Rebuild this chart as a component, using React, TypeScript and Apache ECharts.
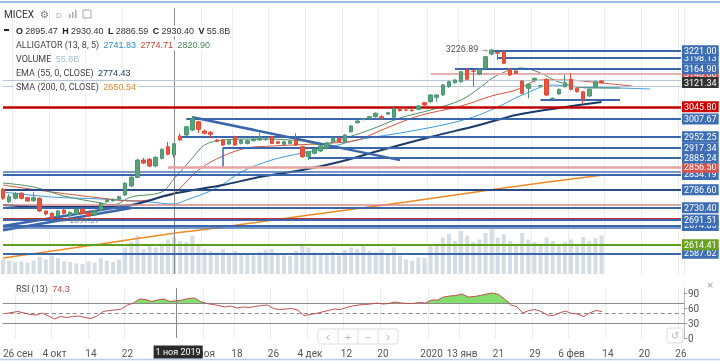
import React, { useEffect, useRef } from "react";
import * as echarts from "echarts";

const dates = [
  "2019-09-24","2019-09-25","2019-09-26","2019-09-27","2019-09-30",
  "2019-10-01","2019-10-02","2019-10-03","2019-10-04","2019-10-07","2019-10-08","2019-10-09","2019-10-10","2019-10-11",
  "2019-10-14","2019-10-15","2019-10-16","2019-10-17","2019-10-18","2019-10-21","2019-10-22","2019-10-23","2019-10-24","2019-10-25",
  "2019-10-28","2019-10-29","2019-10-30","2019-10-31",
  "2019-11-01","2019-11-05","2019-11-06","2019-11-07","2019-11-08","2019-11-11","2019-11-12","2019-11-13","2019-11-14","2019-11-15",
  "2019-11-18","2019-11-19","2019-11-20","2019-11-21","2019-11-22","2019-11-25","2019-11-26","2019-11-27","2019-11-28","2019-11-29",
  "2019-12-02","2019-12-03","2019-12-04","2019-12-05","2019-12-06","2019-12-09","2019-12-10","2019-12-11","2019-12-12","2019-12-13",
  "2019-12-16","2019-12-17","2019-12-18","2019-12-19","2019-12-20","2019-12-23","2019-12-24","2019-12-25","2019-12-26","2019-12-27",
  "2019-12-30","2019-12-31",
  "2020-01-03","2020-01-06","2020-01-08","2020-01-09","2020-01-10","2020-01-13","2020-01-14","2020-01-15","2020-01-16","2020-01-17",
  "2020-01-20","2020-01-21","2020-01-22","2020-01-23","2020-01-24","2020-01-27","2020-01-28","2020-01-29","2020-01-30","2020-01-31",
  "2020-02-03","2020-02-04","2020-02-05","2020-02-06","2020-02-07","2020-02-10","2020-02-11","2020-02-12","2020-02-13",
  "2020-02-14","2020-02-15","2020-02-16","2020-02-17","2020-02-18","2020-02-19","2020-02-20","2020-02-21","2020-02-22","2020-02-23",
  "2020-02-24","2020-02-25","2020-02-26"
];

const tickDates = ["2019-09-26","2019-10-04","2019-10-14","2019-10-22","2019-11-11","2019-11-18","2019-11-26","2019-12-04","2019-12-12","2019-12-20","2020-01-03","2020-01-13","2020-01-21","2020-01-29","2020-02-06","2020-02-14","2020-02-20","2020-02-26"];
const tickTexts = ["26 сен","4 окт","14","22","ноя","18","26","4 дек","12","20","2020","13 янв","21","29","6 фев","14","20","26"];

const opens = [2787.7,2749.0,2759.6,2775.2,2761.5,2752.1,2759.6,2719.9,2712.7,2704.3,2723.0,2705.2,2710.5,2725.2,2714.8,2707.4,2723.0,2749.0,2752.1,2756.5,2770.0,2798.1,2825.3,2879.3,2881.5,2860.6,2884.6,2920.9,2895.47,2954.4,2957.5,2973.1,2999.1,2970.0,2965.9,2941.9,2941.9,2929.4,2952.2,2931.5,2931.5,2939.7,2941.9,2943.0,2952.2,2936.5,2928.4,2931.5,2941.9,2920.9,2889.7,2900.3,2907.4,2916.9,2936.5,2948.1,2936.5,2967.8,2995.9,3006.0,3009.7,3014.7,3014.7,3023.1,3012.8,3038.8,3036.0,3035.6,3037.8,3058.5,3061.6,3075.3,3082.5,3108.5,3121.0,3124.1,3160.7,3157.6,3147.2,3166.0,3210.7,3214.8,3217.9,3162.9,3157.6,3126.3,3103.5,3129.4,3111.0,3131.6,3071.0,3085.7,3108.5,3131.6,3103.5,3092.9,3079.4,3108.5,3126.3];
const closes = [2759.6,2764.6,2775.2,2759.6,2751.2,2761.5,2719.9,2710.5,2697.1,2719.9,2712.7,2715.8,2725.2,2712.7,2704.3,2719.9,2744.0,2754.3,2756.5,2764.6,2806.5,2825.3,2879.3,2869.9,2860.6,2887.6,2912.8,2897.2,2930.40,2941.9,2983.4,3009.7,2975.3,2962.8,2959.7,2937.8,2926.2,2939.7,2926.2,2941.9,2939.7,2944.0,2950.3,2944.5,2931.5,2931.5,2936.5,2938.7,2926.2,2889.7,2905.3,2912.8,2923.1,2932.5,2947.2,2936.5,2957.5,2985.6,3001.3,3007.5,3014.7,3025.3,3009.7,3027.2,3041.0,3033.5,3035.0,3033.5,3048.1,3051.3,3082.5,3082.5,3113.8,3124.1,3129.4,3155.4,3131.6,3156.5,3162.9,3202.3,3223.2,3213.0,3181.6,3145.0,3150.4,3087.8,3116.0,3134.7,3112.0,3082.5,3072.2,3100.3,3121.0,3100.3,3092.9,3069.1,3100.3,3124.1,3121.34];
const lows = [2754.3,2745.0,2756.0,2756.0,2748.0,2749.0,2717.0,2706.0,2691.5,2700.0,2709.0,2702.0,2707.0,2709.0,2701.0,2704.0,2720.0,2746.0,2749.0,2753.0,2767.0,2795.0,2822.0,2866.0,2857.0,2857.0,2881.0,2894.0,2886.59,2939.6,2953.0,2970.0,2963.7,2959.7,2948.1,2935.0,2923.0,2926.0,2923.0,2928.0,2928.0,2937.0,2939.0,2940.0,2929.0,2929.0,2926.0,2929.0,2923.0,2886.0,2879.3,2897.0,2904.0,2913.0,2933.0,2934.0,2933.0,2965.0,2993.0,3003.0,3007.0,3012.0,3005.0,3020.0,3010.0,3031.0,3032.0,3031.0,3035.0,3048.0,3058.0,3061.6,3080.0,3105.0,3118.0,3121.0,3128.0,3108.5,3144.0,3163.0,3207.0,3191.9,3179.0,3142.0,3147.0,3084.0,3072.2,3126.0,3108.0,3079.0,3068.0,3083.0,3106.0,3097.0,3090.0,3054.4,3076.0,3106.0,3118.0];
const highs = [2791.8,2773.0,2779.0,2779.0,2765.0,2780.2,2762.0,2722.0,2716.0,2723.0,2726.0,2719.0,2728.0,2728.0,2718.0,2723.0,2747.0,2757.0,2759.0,2768.0,2810.0,2829.0,2882.0,2886.0,2885.0,2891.0,2916.0,2936.5,2930.40,2962.8,2986.0,3016.9,3002.0,2975.3,2969.0,2945.0,2945.0,2943.0,2955.0,2945.0,2943.0,2947.0,2964.7,2947.0,2955.0,2939.0,2939.0,2941.0,2962.8,2924.0,2908.0,2916.0,2926.0,2936.0,2950.0,2951.0,2960.0,2989.0,3004.0,3010.0,3017.0,3028.0,3020.0,3030.0,3044.0,3042.0,3038.0,3038.0,3051.0,3061.0,3085.0,3085.0,3117.0,3127.0,3132.0,3158.0,3164.0,3160.0,3166.0,3205.0,3226.89,3217.9,3220.0,3166.0,3160.0,3129.0,3119.0,3137.0,3114.0,3134.0,3075.0,3103.0,3145.0,3150.4,3106.0,3095.0,3103.0,3127.0,3129.0];

const volumesB = [22,20,18,19,17,20,26,22,28,24,19,18,16,15,19,17,24,20,18,22,40,48,58,38,42,40,46,52,55.8,50,48,58,45,38,35,33,38,30,35,32,30,28,33,36,38,30,28,27,35,45,40,33,32,30,34,28,36,40,38,42,35,33,37,30,40,28,22,20,25,24,42,45,55,60,50,65,58,48,52,62,68,55,60,50,45,62,52,48,44,55,50,45,48,52,44,56,50,54,58];

const rsiValues = [49,51,53,50,47,46,50,44,38,43,41,43,44,41,39,44,53,55,56,58,66,70,78,77,73,76,78,73,74.3,76,79,80,73,69,67,65,62,64,60,62,61,63,65,66,59,57,58,59,56,45,47,49,52,55,58,57,61,64,66,67,68,70,68,69,72,70,69,69,71,70,76,76,82,84,85,88,82,83,85,88,90,87,78,66,63,50,55,57,53,46,45,50,54,49,48,43,50,55,53];

// [category index, value] readings of the indicator curves
const jawPts = [[0,2779.3],[8,2763.7],[16,2757.5],[24,2748.0],[28,2741.83],[30,2754.3],[35,2791.8],[39,2841.8],[44,2879.3],[49,2901.2],[53,2916.9],[58,2941.9],[65,2963.7],[72,2988.8],[77,3013.8],[81,3045.0],[85,3082.5],[90,3113.8],[94,3107.5],[101,3104.4],[106,3101.3]];
const teethPts = [[0,2801.2],[8,2779.3],[16,2760.6],[21,2751.2],[24,2754.3],[26,2763.7],[28,2774.71],[32,2848.1],[36,2891.8],[40,2916.9],[44,2923.1],[54,2932.5],[58,2941.9],[62,2973.1],[68,3016.9],[75,3048.1],[80,3079.4],[84,3098.2],[88,3129.4],[92,3129.4],[98,3120.0],[103,3110.7]];
const lipsPts = [[0,2807.4],[5,2795.0],[10,2766.8],[16,2744.9],[18,2738.7],[21,2763.7],[26,2779.3],[28,2820.9],[31,2885.6],[33,2926.2],[36,2941.9],[42,2945.0],[49,2938.7],[52,2926.2],[55,2941.9],[60,2973.1],[65,3010.6],[70,3035.6],[75,3066.9],[78,3104.4],[81,3145.0],[85,3166.9],[88,3151.3],[91,3123.2],[96,3104.4],[101,3104.4]];
const emaPts = [[0,2738.7],[8,2732.4],[16,2732.4],[21,2738.7],[28,2774.43],[36,2801.2],[42,2826.2],[49,2848.1],[55,2873.1],[62,2910.6],[70,2951.2],[78,2988.8],[84,3020.0],[91,3041.9],[98,3060.6]];
const smaPts = [[0,2573.0],[16,2617.0],[28,2650.54],[33,2662.0],[49,2704.0],[66,2748.0],[82,2792.0],[98,2832.0]];

// horizontal levels: price, first category, last category
const levelPrices = [2587.62,2614.41,2667.6,2674.85,2697.0,2691.51,2740.0,2730.40,2786.60,2841.8,2834.19,2856.50,2885.24,2917.34,2952.25,3007.67,3110.5,3128.5,3066.9,3198.13,3148.0,3164.90,3221.00,3045.80,3121.34];
const levelFrom = [0,0,0,0,0,0,0,0,0,0,0,27,50,36,29,30,0,0,88,81,70,74,80,0,0];
const levelTo = [111,111,111,111,111,111,111,111,111,111,111,111,111,111,111,111,111,111,101,111,111,111,111,111,111];
const levelKinds = ["blue","green","thin","blue","red","blue","pinkthin","blue","navy","thin","blue","pink","blue","blue","blue","blue","grey","grey","seg","blue","pinkred","blue","blue","redbig","last"];

const highLabel = { cat: 80, price: 3226.89 };
const lowLabel = { cat: 8, price: 2691.51 };

const BLUE = "#3a66ad";

export default function App() {
  const ref = useRef<HTMLDivElement>(null);
  useEffect(() => {
    const chart = echarts.init(ref.current!, null, { renderer: "svg" });
    const tickSet = new Set(tickDates);
    const candleData = opens.map((o, i) => [o, closes[i], lows[i], highs[i]]);
    const styleFor = (k: string) => {
      switch (k) {
        case "blue": return { line: { color: BLUE, width: 2 }, label: "#3d6db5" };
        case "navy": return { line: { color: "#284a86", width: 2 }, label: "#3d6db5" };
        case "green": return { line: { color: "#5c9e1e", width: 2 }, label: "#6aa121" };
        case "thin": return { line: { color: "#4a74b8", width: 1.5 }, label: null };
        case "red": return { line: { color: "#c9302c", width: 2 }, label: null };
        case "pinkthin": return { line: { color: "#d88a8a", width: 1.5 }, label: null };
        case "pink": return { line: { color: "#e6a3a3", width: 2.5 }, label: "#d9534f" };
        case "grey": return { line: { color: "#b9c7d8", width: 1 }, label: null };
        case "seg": return { line: { color: BLUE, width: 2 }, label: null };
        case "pinkred": return { line: { color: "#eab0b0", width: 2 }, label: "#d9534f" };
        case "redbig": return { line: { color: "#c00000", width: 2.5 }, label: "#d00000" };
        case "last": return { line: { color: "rgba(0,0,0,0)", width: 0 }, label: "#333333" };
      }
      return { line: { color: BLUE, width: 1 }, label: null };
    };
    const levelLines = levelPrices.map((p, i) => {
      const st = styleFor(levelKinds[i]);
      return [
        {
          coord: [levelFrom[i], p],
          lineStyle: { color: st.line.color, width: st.line.width, type: "solid" },
          label: st.label
            ? {
                show: true, position: "end", distance: 1, formatter: p.toFixed(2),
                backgroundColor: st.label, color: "#fff", padding: [1, 2, 0, 2], lineHeight: 10,
                fontSize: 9, fontFamily: "Roboto",
              }
            : { show: false },
        },
        { coord: [levelTo[i], p] },
      ];
    });
    const seg = (a: number[], b: number[], w: number) => [
      { coord: a, lineStyle: { color: BLUE, width: w, type: "solid" }, label: { show: false } },
      { coord: b },
    ];
    const trendLines = [
      seg([31, 3013], [65, 2879], 2.5),
      seg([0, 2660], [21, 2729], 2.5),
      seg([0, 2673], [21, 2739], 2.5),
      seg([36, 2917.34], [36, 2858], 1.5),
    ];
    const lineSeries = (name: string, pts: number[][], color: string, width: number) => ({
      name, type: "line", xAxisIndex: 0, yAxisIndex: 0, data: pts, showSymbol: false,
      smooth: 0.35, lineStyle: { color, width }, z: 4, silent: true,
    });

    const option: any = {
      animation: false,
      textStyle: { fontFamily: "Roboto" },
      grid: [
        { left: 0, right: 36, top: 8, height: 266 },
        { left: 0, right: 36, top: 288, height: 50 },
      ],
      xAxis: [
        {
          type: "category", gridIndex: 0, data: dates, boundaryGap: true,
          axisLine: { show: false }, axisTick: { show: false }, axisLabel: { show: false },
          splitLine: { show: true, interval: (i: number, v: string) => tickSet.has(v), lineStyle: { color: "#ececec" } },
        },
        {
          type: "category", gridIndex: 1, data: dates, boundaryGap: true,
          axisLine: { show: false }, axisTick: { show: false },
          axisLabel: {
            interval: (i: number, v: string) => tickSet.has(v),
            formatter: (v: string) => tickTexts[tickDates.indexOf(v)] ?? "",
            color: "#555", fontSize: 10, margin: 10,
          },
          splitLine: { show: true, interval: (i: number, v: string) => tickSet.has(v), lineStyle: { color: "#ececec" } },
        },
      ],
      yAxis: [
        { type: "value", gridIndex: 0, min: 2523, max: 3354.5, show: false, splitLine: { show: false } },
        { type: "value", gridIndex: 0, min: 0, max: 401, show: false, splitLine: { show: false } },
        {
          type: "value", gridIndex: 1, min: 0, max: 100, interval: 30, position: "right",
          axisLine: { show: true, lineStyle: { color: "#bbb" } }, axisTick: { show: true, length: 3, lineStyle: { color: "#999" } },
          axisLabel: { color: "#555", fontSize: 10, margin: 4 }, splitLine: { show: false },
        },
      ],
      series: [
        {
          name: "Volume", type: "bar", xAxisIndex: 0, yAxisIndex: 1, data: volumesB, barWidth: 4,
          itemStyle: { color: "#d5dde4" }, z: 1, silent: true,
        },
        lineSeries("SMA200", smaPts, "#f08a24", 1.5),
        lineSeries("Jaw", jawPts, "#3d9be0", 1),
        lineSeries("Teeth", teethPts, "#d2553c", 1),
        lineSeries("Lips", lipsPts, "#4f8f5f", 1),
        lineSeries("EMA55", emaPts, "#1b3a6b", 2),
        {
          name: "MICEX", type: "candlestick", xAxisIndex: 0, yAxisIndex: 0, data: candleData, barWidth: 4, z: 5,
          itemStyle: { color: "#58a37a", color0: "#e8553f", borderColor: "#4a9670", borderColor0: "#e04a35", borderWidth: 1 },
          markLine: {
            silent: true, symbol: ["none", "none"], animation: false, lineStyle: { type: "solid" },
            data: [
              { xAxis: dates[28], lineStyle: { color: "#8a8a8a", width: 1, type: "solid" }, label: { show: false } },
              ...trendLines,
              ...levelLines,
            ],
          },
          markPoint: {
            silent: true, symbol: "circle", symbolSize: 0,
            data: [
              { coord: [highLabel.cat, highLabel.price], label: { show: true, position: "left", distance: 2, formatter: highLabel.price.toFixed(2) + " →", color: "#555", fontSize: 9 } },
              { coord: [lowLabel.cat, lowLabel.price], label: { show: true, position: "right", distance: 8, formatter: "← " + lowLabel.price.toFixed(2), color: "#777", fontSize: 8 } },
            ],
          },
        },
        {
          name: "RSIbase", type: "line", xAxisIndex: 1, yAxisIndex: 2, stack: "rsi",
          data: rsiValues.map(() => 70), showSymbol: false, lineStyle: { width: 0, opacity: 0 }, silent: true,
        },
        {
          name: "RSIfill", type: "line", xAxisIndex: 1, yAxisIndex: 2, stack: "rsi",
          data: rsiValues.map((v) => Math.max(v - 70, 0)), showSymbol: false,
          lineStyle: { width: 0, opacity: 0 }, areaStyle: { color: "#83de6c", opacity: 1 }, silent: true,
        },
        {
          name: "RSI", type: "line", xAxisIndex: 1, yAxisIndex: 2, data: rsiValues, showSymbol: false,
          lineStyle: { color: "#c0504d", width: 1 }, z: 5, silent: true,
          markLine: {
            silent: true, symbol: ["none", "none"], label: { show: false },
            data: [
              { yAxis: 70, lineStyle: { color: "#8c8c8c", width: 1, type: "solid" } },
              { yAxis: 50, lineStyle: { color: "#8c8c8c", width: 1, type: [4, 3] } },
              { yAxis: 30, lineStyle: { color: "#8c8c8c", width: 1, type: "solid" } },
              { xAxis: dates[28], lineStyle: { color: "#8a8a8a", width: 1, type: "solid" } },
            ],
          },
        },
      ],
    };
    chart.setOption(option);

    const cx = chart.convertToPixel({ xAxisIndex: 1 }, dates[28]) as number;
    const legendBg = "rgba(255,255,255,0.9)";
    const txt = (id: string, x: number, y: number, rich: string, extra: any = {}) => ({
      id, type: "text", x, y, z: 50,
      style: {
        text: rich, fontSize: 9, fontFamily: "Roboto", fill: "#444", verticalAlign: "middle",
        backgroundColor: legendBg, padding: [1, 2],
        rich: {
          b: { fontWeight: "bold", fill: "#222", fontSize: 9 },
          v: { fill: "#333", fontSize: 9 },
          jb: { fill: "#2b8ad4", fontSize: 9 },
          jr: { fill: "#c9432f", fontSize: 9 },
          jg: { fill: "#4c8a58", fontSize: 9 },
          vol: { fill: "#a9bcd2", fontSize: 9 },
          ema: { fill: "#1e3f6e", fontSize: 9 },
          sma: { fill: "#e8862a", fontSize: 9 },
          rsi: { fill: "#c0504d", fontSize: 9 },
        },
        ...extra,
      },
    });
    chart.setOption({
      graphic: {
        elements: [
          { id: "topline", type: "line", shape: { x1: 0, y1: 2, x2: 720, y2: 2 }, style: { stroke: "#7aa6dd", lineWidth: 1.5 }, z: 60 },
          { id: "botline", type: "line", shape: { x1: 0, y1: 359.5, x2: 720, y2: 359.5 }, style: { stroke: "#b8cfe9", lineWidth: 1.5 }, z: 60 },
          txt("h1", 2, 14, "MICEX", { fontSize: 10, fill: "#333", backgroundColor: "transparent" }),
          { id: "gear", type: "text", x: 40, y: 14, z: 50, style: { text: "⚙", fontSize: 10, fill: "#777", verticalAlign: "middle" } },
          { id: "dd", type: "text", x: 56, y: 15, z: 50, style: { text: "D", fontSize: 8, fill: "#aaa", verticalAlign: "middle" } },
          { id: "bi1", type: "rect", shape: { x: 69, y: 14, width: 1.5, height: 4 }, style: { fill: "#aaa" }, z: 50 },
          { id: "bi2", type: "rect", shape: { x: 72, y: 12, width: 1.5, height: 6 }, style: { fill: "#aaa" }, z: 50 },
          { id: "bi3", type: "rect", shape: { x: 75, y: 10, width: 1.5, height: 8 }, style: { fill: "#aaa" }, z: 50 },
          { id: "bx", type: "rect", shape: { x: 83, y: 10, width: 8, height: 8 }, style: { fill: "none", stroke: "#aaa", lineWidth: 1 }, z: 50 },
          { id: "dash", type: "rect", shape: { x: 4, y: 29, width: 5, height: 2 }, style: { fill: "#222" }, z: 50 },
          txt("h2", 14, 31, "{b|O} {v|2895.47}  {b|H} {v|2930.40}  {b|L} {v|2886.59}  {b|C} {v|2930.40}  {b|V} {v|55.8B}"),
          txt("h3", 14, 45, "ALLIGATOR (13, 8, 5)  {jb|2741.83}  {jr|2774.71}  {jg|2820.90}"),
          txt("h4", 14, 59, "VOLUME  {vol|55.8B}"),
          txt("h5", 14, 73, "EMA (55, 0, CLOSE)  {ema|2774.43}"),
          txt("h6", 14, 87, "SMA (200, 0, CLOSE)  {sma|2650.54}"),
          txt("r1", 14, 289, "RSI (13)  {rsi|74.3}"),
          { id: "rx", type: "text", x: 707, y: 285, z: 50, style: { text: "×", fontSize: 11, fill: "#999", verticalAlign: "middle" } },
          { id: "nav", type: "rect", shape: { x: 318, y: 329, width: 80, height: 15, r: 2 }, style: { fill: "rgba(255,255,255,0.8)", stroke: "#ddd" }, z: 50 },
          { id: "nd1", type: "line", shape: { x1: 338, y1: 329, x2: 338, y2: 344 }, style: { stroke: "#ddd" }, z: 51 },
          { id: "nd2", type: "line", shape: { x1: 358, y1: 329, x2: 358, y2: 344 }, style: { stroke: "#ddd" }, z: 51 },
          { id: "nd3", type: "line", shape: { x1: 378, y1: 329, x2: 378, y2: 344 }, style: { stroke: "#ddd" }, z: 51 },
          { id: "n1", type: "text", x: 328, y: 336.5, z: 52, style: { text: "‹", fontSize: 12, fill: "#bbb", align: "center", verticalAlign: "middle" } },
          { id: "n2", type: "text", x: 348, y: 336.5, z: 52, style: { text: "+", fontSize: 11, fill: "#bbb", align: "center", verticalAlign: "middle" } },
          { id: "n3", type: "text", x: 368, y: 336.5, z: 52, style: { text: "−", fontSize: 11, fill: "#bbb", align: "center", verticalAlign: "middle" } },
          { id: "n4", type: "text", x: 388, y: 336.5, z: 52, style: { text: "›", fontSize: 12, fill: "#bbb", align: "center", verticalAlign: "middle" } },
          { id: "rst", type: "rect", shape: { x: 667, y: 328, width: 16, height: 15, r: 2 }, style: { fill: "rgba(255,255,255,0.8)", stroke: "#ddd" }, z: 50 },
          { id: "rst2", type: "text", x: 675, y: 335.5, z: 52, style: { text: "↺", fontSize: 10, fill: "#bbb", align: "center", verticalAlign: "middle" } },
          {
            id: "xlbl", type: "text", x: cx + 2, y: 352, z: 60,
            style: { text: "1 ноя 2019", fontSize: 9, fontFamily: "Roboto", fill: "#fff", align: "center", verticalAlign: "middle", backgroundColor: "#2b2b2b", padding: [2, 2] },
          },
        ],
      },
    });
    return () => chart.dispose();
  }, []);
  return <div ref={ref} style={{ position: "fixed", left: 0, top: 0, width: 720, height: 361 }} />;
}
